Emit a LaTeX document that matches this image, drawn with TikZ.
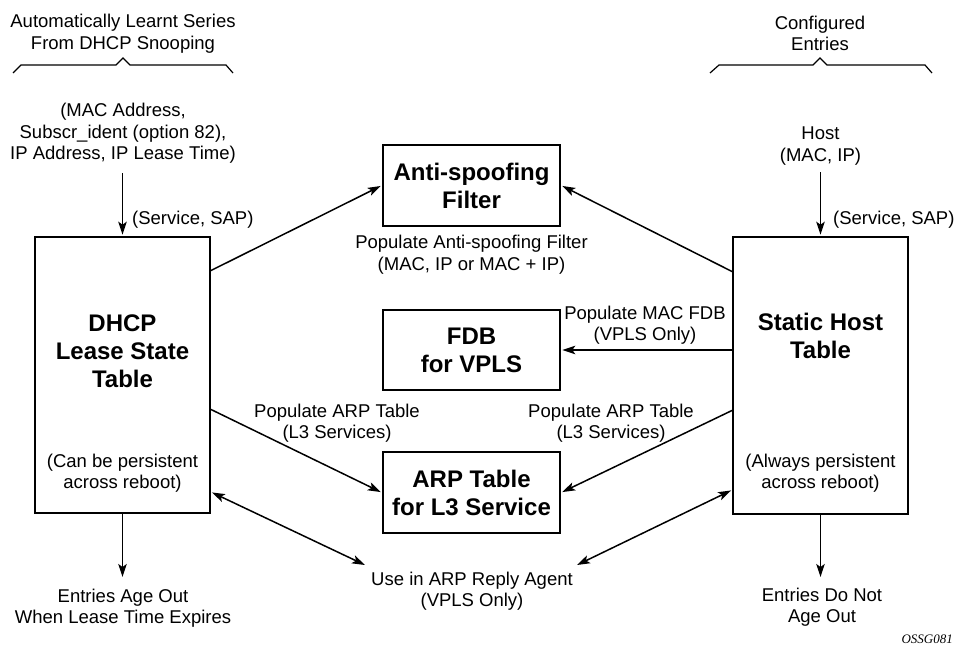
\documentclass[tikz,border=0pt]{standalone}
\usepackage{fontspec}
\setmainfont{Liberation Sans}
\newfontfamily\serifit{Liberation Serif}
\usetikzlibrary{arrows.meta}
\begin{document}
\begin{tikzpicture}[x=1pt,y=-1pt,
  box/.style={draw, line width=2.6pt, inner sep=0pt},
  txt/.style={align=center, font=\fontsize{18.5}{21.5}\selectfont, inner sep=0pt},
  btxt/.style={align=center, font=\fontsize{24}{28}\selectfont\bfseries, inner sep=0pt},
  tip/.style={},
  arr/.style={line width=1.5pt, -{Stealth[length=13pt,width=8.5pt,inset=3pt]}},
  darr/.style={line width=1.5pt, {Stealth[length=13pt,width=8.5pt,inset=3pt]}-{Stealth[length=13pt,width=8.5pt,inset=3pt]}},
  brace/.style={line width=1.2pt}
]
\useasboundingbox (0,0) rectangle (955,650);

% boxes
\node[box, minimum width=175pt, minimum height=276pt] (dhcp) at (122.5,375) {};
\node[box, minimum width=175pt, minimum height=277pt] (static) at (820.5,375.5) {};
\node[box, btxt, minimum width=177pt, minimum height=81pt] (anti) at (471.5,185.5) {Anti-spoofing\\Filter};
\node[box, btxt, minimum width=177pt, minimum height=80pt] (fdb) at (471.5,350) {FDB\\for VPLS};
\node[box, btxt, minimum width=177pt, minimum height=81pt] (arp) at (471.5,492.5) {ARP Table\\for L3 Service};

% texts inside big boxes
\node[btxt] (dhcpT) at (122.5,351) {DHCP\\Lease State\\Table};
\node[txt] (dhcpN) at (122.5,473) {(Can be persistent\\across reboot)};
\node[btxt] (statT) at (820.5,336) {Static Host\\Table};
\node[txt] (statN) at (820.5,473) {(Always persistent\\across reboot)};

% titles and braces
\node[txt] (t1) at (123,33.5) {Automatically Learnt Series\\From DHCP Snooping};
\node[txt] (t2) at (820,33.5) {Configured\\Entries};
\draw[brace] (13,73) -- (21,65) -- (116,65) -- (123,58) -- (130,65) -- (226,65) -- (233,73);
\draw[brace] (710,73) -- (719,65) -- (813,65) -- (820,58) -- (827,65) -- (925,65) -- (932,73);

% inputs
\node[txt] (in1) at (123,133.5) {(MAC Address,\\Subscr\_ident (option 82),\\IP Address, IP Lease Time)};
\node[txt] (in2) at (820.5,146) {Host\\(MAC, IP)};
\node[txt, anchor=west] (sv1) at (132,220) {(Service, SAP)};
\node[txt, anchor=west] (sv2) at (833,220) {(Service, SAP)};

% arrow labels
\node[txt] (lA) at (471.5,254.5) {Populate Anti-spoofing Filter\\(MAC, IP or MAC + IP)};
\node[txt] (lF) at (645,325) {Populate MAC FDB\\(VPLS Only)};
\node[txt] (lRL) at (337,423) {Populate ARP Table\\(L3 Services)};
\node[txt] (lRR) at (611,423) {Populate ARP Table\\(L3 Services)};
\node[txt] (use) at (472,591) {Use in ARP Reply Agent\\(VPLS Only)};
\node[txt] (ageL) at (123,608) {Entries Age Out\\When Lease Time Expires};
\node[txt] (ageR) at (822,607) {Entries Do Not\\Age Out};
\node[font=\serifit\itshape\fontsize{13}{15}\selectfont, anchor=east, inner sep=0pt] (id) at (953,639) {OSSG081};

% connector ends
\coordinate (dA) at (210,271);
\coordinate (sA) at (733,272);
\coordinate (sF) at (733,350);
\coordinate (dR) at (210,409);
\coordinate (sR) at (733,410);
\coordinate (dU) at (211,492);
\coordinate (sU) at (732,490);
\coordinate (uL) at (365,565);
\coordinate (uR) at (577,565);
\coordinate (inA) at (122.5,173);
\coordinate (inB) at (820.5,172);
\coordinate (aL) at (122.5,577);
\coordinate (aR) at (820.5,577);

% connectors
\draw[arr, shorten >=1pt] (dA) -- (anti.west);
\draw[arr, shorten >=1pt] (sA) -- (anti.east);
\draw[arr, shorten >=1pt] (sF) -- (fdb.east);
\draw[arr, shorten >=1pt] (dR) -- (arp.west);
\draw[arr, shorten >=1pt] (sR) -- (arp.east);
\draw[darr, shorten <=1pt] (dU) -- (uL);
\draw[darr, shorten <=1pt] (sU) -- (uR);
\draw[arr, shorten >=1pt] (inA) -- (dhcp.north);
\draw[arr, shorten >=1pt] (inB) -- (static.north);
\draw[arr] (dhcp.south) -- (aL);
\draw[arr] (static.south) -- (aR);
\end{tikzpicture}
\end{document}
